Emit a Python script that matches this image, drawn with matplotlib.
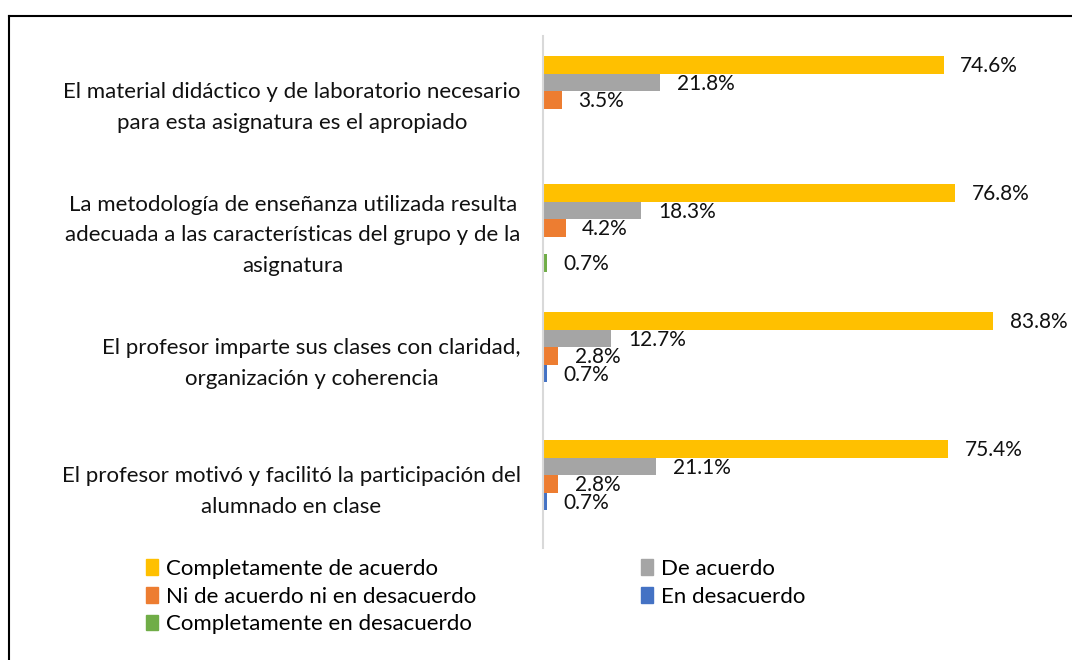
import matplotlib.pyplot as plt
import numpy as np
from matplotlib.lines import Line2D
from matplotlib.patches import Patch

plt.rcParams['font.family'] = ['Lato', 'DejaVu Sans']

# Datos de la encuesta (porcentajes)
preguntas = [
    "El material didáctico y de laboratorio necesario\npara esta asignatura es el apropiado",
    "La metodología de enseñanza utilizada resulta\nadecuada a las características del grupo y de la\nasignatura",
    "El profesor imparte sus clases con claridad,\norganización y coherencia",
    "El profesor motivó y facilitó la participación del\nalumnado en clase",
]
series = ["Completamente de acuerdo", "De acuerdo", "Ni de acuerdo ni en desacuerdo",
          "En desacuerdo", "Completamente en desacuerdo"]
colores = ["#FFC000", "#A5A5A5", "#ED7D31", "#4472C4", "#70AD47"]

completamente_de_acuerdo = [74.6, 76.8, 83.8, 75.4]
de_acuerdo = [21.8, 18.3, 12.7, 21.1]
ni_de_acuerdo_ni_en_desacuerdo = [3.5, 4.2, 2.8, 2.8]
en_desacuerdo = [0, 0, 0.7, 0.7]
completamente_en_desacuerdo = [0, 0.7, 0, 0]

valores = [completamente_de_acuerdo, de_acuerdo, ni_de_acuerdo_ni_en_desacuerdo,
           en_desacuerdo, completamente_en_desacuerdo]

fig = plt.figure(figsize=(10.72, 6.6), dpi=100)
ax = fig.add_axes([543 / 1072, 112 / 660, 517 / 1072, 512 / 660])

alto = 0.137
y = np.arange(len(preguntas))
for j, (serie, color, vals) in enumerate(zip(series, colores, valores)):
    pos = y + (j - 2) * alto
    ax.barh(pos, vals, height=alto, color=color, label=serie)
    for p, v in zip(pos, vals):
        if v > 0:
            ax.annotate(f"{v:.1f}%", (v, p), xytext=(12, -1), textcoords='offset points',
                        va='center', ha='left', fontsize=15, color='#111111')

ax.set_xlim(0, 96.3)
ax.set_ylim(3.5, -0.5)
ax.set_xticks([])
ax.set_yticks(y)
ax.set_yticklabels(preguntas, fontsize=16, color='#111111', linespacing=1.68)
for t in ax.get_yticklabels():
    t.set_multialignment('center')
ax.tick_params(axis='y', length=0, pad=16)
for s in ['top', 'right', 'bottom']:
    ax.spines[s].set_visible(False)
ax.spines['left'].set_color('#D9D9D9')
ax.spines['left'].set_linewidth(1.5)

orden = [0, 2, 4, 1, 3]
handles = [Patch(color=colores[i], label=series[i]) for i in orden]
fig.legend(handles=handles, ncol=2, loc='upper left', bbox_to_anchor=(146 / 1072, 1 - 559 / 660),
           frameon=False, fontsize=16, handlelength=0.55, handleheight=0.7, handletextpad=0.35,
           columnspacing=7.4, labelspacing=0.34, borderpad=0, borderaxespad=0)

# marco de la figura
fig.add_artist(Line2D([9 / 1072, 1], [1 - 16 / 660, 1 - 16 / 660], color='black', lw=1.5))
fig.add_artist(Line2D([9 / 1072, 9 / 1072], [0, 1 - 16 / 660], color='black', lw=1.5))

fig.savefig('out.png', dpi=100)
